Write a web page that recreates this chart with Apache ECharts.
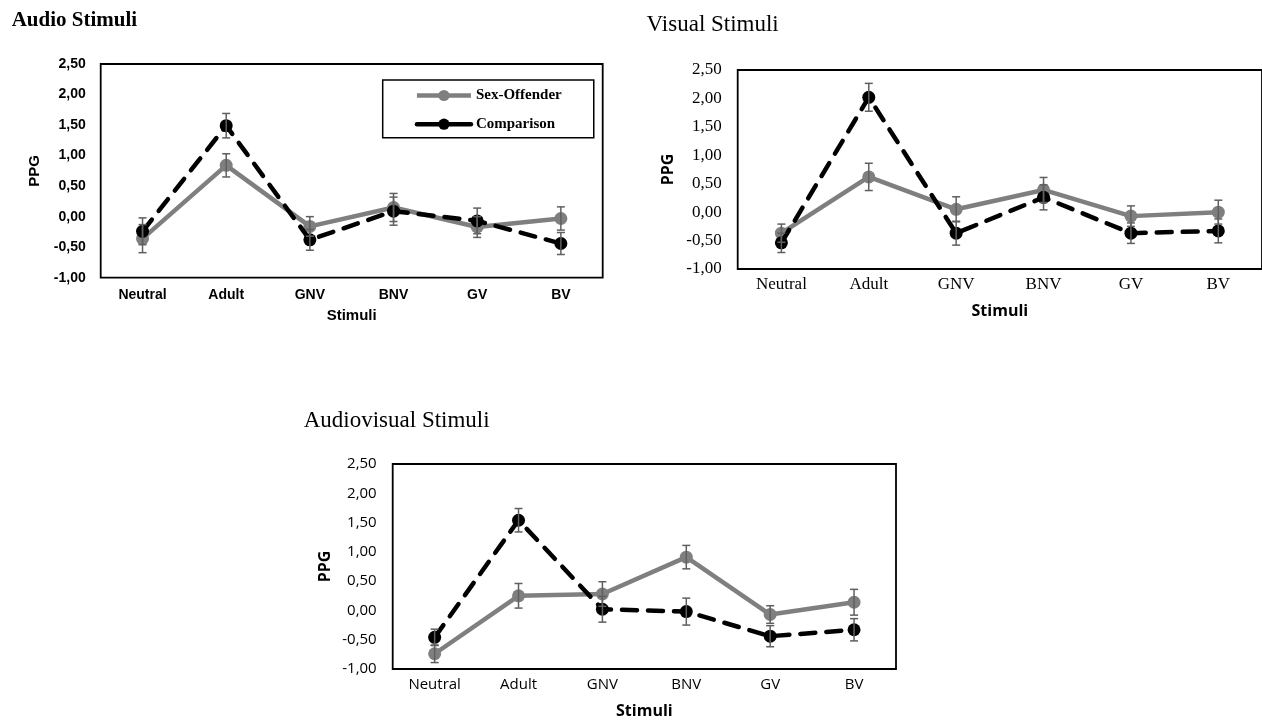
<!DOCTYPE html>
<html>
<head>
<meta charset="utf-8">
<script src="https://cdn.jsdelivr.net/npm/echarts@6/dist/echarts.min.js"></script>
<style>
html,body{margin:0;padding:0;background:#fff;}
#chart{width:1262px;height:723px;}
</style>
</head>
<body>
<div id="chart"></div>
<script>
// ---- data ----
var categories = ['Neutral', 'Adult', 'GNV', 'BNV', 'GV', 'BV'];
var seriesNames = ['Sex-Offender', 'Comparison'];
var yTicks = [-1, -0.5, 0, 0.5, 1, 1.5, 2, 2.5];
var yTickLabels = ['-1,00', '-0,50', '0,00', '0,50', '1,00', '1,50', '2,00', '2,50'];

var audioSex = [-0.36, 0.84, -0.16, 0.15, -0.17, -0.03];
var audioSexErr = [0.23, 0.19, 0.16, 0.23, 0.17, 0.19];
var audioComp = [-0.24, 1.49, -0.38, 0.09, -0.07, -0.44];
var audioCompErr = [0.22, 0.20, 0.17, 0.23, 0.21, 0.18];

var visualSex = [-0.37, 0.62, 0.05, 0.39, -0.07, 0.00];
var visualSexErr = [0.16, 0.24, 0.22, 0.22, 0.18, 0.21];
var visualComp = [-0.54, 2.02, -0.37, 0.26, -0.37, -0.33];
var visualCompErr = [0.17, 0.245, 0.21, 0.22, 0.18, 0.21];

var avSex = [-0.74, 0.25, 0.28, 0.91, -0.07, 0.14];
var avSexErr = [0.15, 0.21, 0.21, 0.20, 0.15, 0.22];
var avComp = [-0.46, 1.54, 0.02, -0.02, -0.44, -0.33];
var avCompErr = [0.14, 0.20, 0.22, 0.23, 0.18, 0.19];

var panelTitles = ['Audio Stimuli', 'Visual Stimuli', 'Audiovisual Stimuli'];
var yName = 'PPG';
var xName = 'Stimuli';

// ---- styles ----
var GRAY = '#7f7f7f';
var BLACK = '#000000';
var ERR = '#5f5f5f';

function fmtY(v) {
  for (var i = 0; i < yTicks.length; i++) {
    if (Math.abs(yTicks[i] - v) < 1e-6) return yTickLabels[i];
  }
  return '';
}

function errData(vals, errs) {
  return vals.map(function (v, i) { return [i, v - errs[i], v + errs[i]]; });
}

function renderErr(params, api) {
  var x = api.value(0);
  var p1 = api.coord([x, api.value(1)]);
  var p2 = api.coord([x, api.value(2)]);
  var w = 4;
  var st = { stroke: ERR, lineWidth: 1.5 };
  return {
    type: 'group',
    children: [
      { type: 'line', shape: { x1: p1[0], y1: p1[1], x2: p2[0], y2: p2[1] }, style: st },
      { type: 'line', shape: { x1: p1[0] - w, y1: p1[1], x2: p1[0] + w, y2: p1[1] }, style: st },
      { type: 'line', shape: { x1: p2[0] - w, y1: p2[1], x2: p2[0] + w, y2: p2[1] }, style: st }
    ]
  };
}

var panels = [
  { sex: audioSex, sexErr: audioSexErr, comp: audioComp, compErr: audioCompErr,
    grid: { left: 100.7, top: 64, width: 502, height: 213.7 },
    tick: { fontFamily: 'Liberation Sans', fontWeight: 'bold', fontSize: 14, color: '#000' },
    yMargin: 15, xMargin: 10,
    nameFont: { fontFamily: 'Liberation Sans', fontWeight: 'bold', fontSize: 15, color: '#000' },
    xGap: 31, yGap: 58 },
  { sex: visualSex, sexErr: visualSexErr, comp: visualComp, compErr: visualCompErr,
    grid: { left: 737.7, top: 70, width: 525, height: 199 },
    tick: { fontFamily: 'Liberation Serif', fontSize: 17, color: '#000' },
    yMargin: 16, xMargin: 7,
    nameFont: { fontFamily: 'Open Sans', fontWeight: 'bold', fontSize: 16, color: '#000' },
    xGap: 34, yGap: 61 },
  { sex: avSex, sexErr: avSexErr, comp: avComp, compErr: avCompErr,
    grid: { left: 392.7, top: 464, width: 503.3, height: 205 },
    tick: { fontFamily: 'Open Sans', fontSize: 15, color: '#000' },
    yMargin: 16, xMargin: 8,
    nameFont: { fontFamily: 'Open Sans', fontWeight: 'bold', fontSize: 16, color: '#000' },
    xGap: 34, yGap: 59 }
];

var grids = [], xAxes = [], yAxes = [], series = [];
panels.forEach(function (p, k) {
  grids.push(Object.assign({ show: true, borderColor: '#000', borderWidth: 1.8, backgroundColor: 'transparent' }, p.grid));
  xAxes.push({
    type: 'category', gridIndex: k, data: categories, boundaryGap: true,
    axisLine: { show: false }, axisTick: { show: false }, splitLine: { show: false },
    axisLabel: Object.assign({ margin: p.xMargin, interval: 0 }, p.tick),
    name: xName, nameLocation: 'middle', nameGap: p.xGap, nameTextStyle: p.nameFont
  });
  yAxes.push({
    type: 'value', gridIndex: k, min: -1, max: 2.5, interval: 0.5,
    axisLine: { show: false }, axisTick: { show: false }, splitLine: { show: false },
    axisLabel: Object.assign({ margin: p.yMargin, formatter: fmtY }, p.tick),
    name: yName, nameLocation: 'middle', nameRotate: 90, nameGap: p.yGap, nameTextStyle: p.nameFont
  });
  series.push({
    name: seriesNames[0], type: 'line', xAxisIndex: k, yAxisIndex: k, data: p.sex,
    symbol: 'circle', symbolSize: 13, showSymbol: true,
    lineStyle: { color: GRAY, width: 4.5 }, itemStyle: { color: GRAY }, z: 2
  });
  series.push({
    name: seriesNames[1], type: 'line', xAxisIndex: k, yAxisIndex: k, data: p.comp,
    symbol: 'circle', symbolSize: 13, showSymbol: true,
    lineStyle: { color: BLACK, width: 4.5, type: [15, 11], cap: 'round' }, itemStyle: { color: BLACK }, z: 3
  });
  series.push({
    type: 'custom', xAxisIndex: k, yAxisIndex: k, data: errData(p.sex, p.sexErr),
    encode: { x: 0, y: [1, 2] }, renderItem: renderErr, z: 4, silent: true
  });
  series.push({
    type: 'custom', xAxisIndex: k, yAxisIndex: k, data: errData(p.comp, p.compErr),
    encode: { x: 0, y: [1, 2] }, renderItem: renderErr, z: 4, silent: true
  });
});

var chart = echarts.init(document.getElementById('chart'), null, { renderer: 'canvas' });
chart.setOption({
  animation: false,
  backgroundColor: '#fff',
  title: [
    { text: panelTitles[0], left: 11.7, top: 10, padding: 0,
      textStyle: { fontFamily: 'Liberation Serif', fontWeight: 'bold', fontSize: 21, color: '#000' } },
    { text: panelTitles[1], left: 646.6, top: 13, padding: 0,
      textStyle: { fontFamily: 'Liberation Serif', fontWeight: 'normal', fontSize: 23, color: '#000' } },
    { text: panelTitles[2], left: 303.7, top: 409, padding: 0,
      textStyle: { fontFamily: 'Liberation Serif', fontWeight: 'normal', fontSize: 23, color: '#000' } }
  ],
  legend: {
    orient: 'vertical', left: 382.7, top: 80,
    padding: [8, 32, 6, 32], itemGap: 13.7, itemWidth: 54, itemHeight: 14,
    borderColor: '#000', borderWidth: 1.5, backgroundColor: '#fff',
    textStyle: { fontFamily: 'Liberation Serif', fontWeight: 'bold', fontSize: 15, color: '#000' },
    data: [
      { name: seriesNames[0], lineStyle: { width: 4.5 } },
      { name: seriesNames[1], lineStyle: { type: 'solid', width: 4.5 } }
    ]
  },
  grid: grids,
  xAxis: xAxes,
  yAxis: yAxes,
  series: series
});
</script>
</body>
</html>
